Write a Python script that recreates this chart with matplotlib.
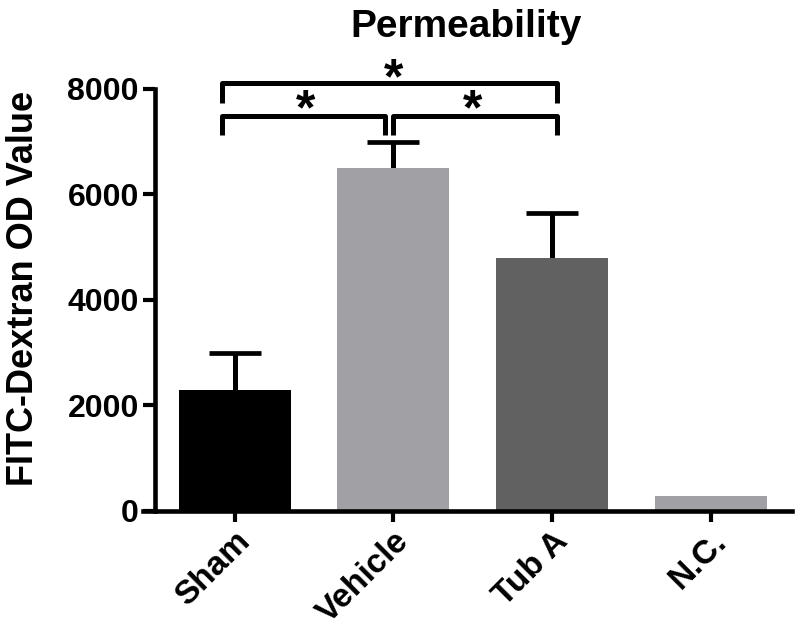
import matplotlib.pyplot as plt

plt.rcParams['font.family'] = ['Liberation Sans', 'DejaVu Sans']
plt.rcParams['font.weight'] = 'bold'

groups = ["Sham", "Vehicle", "Tub A", "N.C."]
means = [2290, 6490, 4800, 280]
sem = [695, 495, 835, 0]
colors = ["#000000", "#a1a1a5", "#616161", "#a1a1a5"]

# significance brackets: (x_left, x_right, y_line, y_leg)
brackets = [(-0.08, 2.03, 8100, 7730), (-0.08, 0.95, 7490, 7120), (1.0, 2.03, 7490, 7120)]
stars = [(1.0, 7720), (0.45, 7130), (1.5, 7130)]

fig = plt.figure(figsize=(8, 6.33), dpi=100)
ax = fig.add_axes([0.17875, 0.1932, 0.8108, 0.7333])

x = list(range(len(groups)))
ax.bar(x, means, width=0.705, color=colors, zorder=2)
eb = ax.errorbar(x[:3], means[:3], yerr=[[0, 0, 0], sem[:3]], fmt="none", ecolor="black",
                 elinewidth=3.6, capsize=18.5, capthick=3.4, zorder=1)
eb[1][0].set_visible(False)  # only the upper caps

for x0, x1, yl, yleg in brackets:
    ax.plot([x0, x0, x1, x1], [yleg, yl, yl, yleg], color="black", lw=3.6,
            solid_joinstyle="round", solid_capstyle="butt", clip_on=False)
for sx, sy in stars:
    ax.text(sx, sy, "*", ha="center", va="bottom", fontsize=36, fontweight="bold")

ax.set_xlim(-0.577, 3.51)
ax.set_ylim(0, 8800)
ax.spines["top"].set_visible(False)
ax.spines["right"].set_visible(False)
ax.spines["left"].set_position(("data", -0.502))
ax.spines["left"].set_bounds(0, 8000)
for s in ["left", "bottom"]:
    ax.spines[s].set_linewidth(3.3)

ax.set_yticks([0, 2000, 4000, 6000, 8000])
ax.set_xticks(x)
ax.set_xticklabels(groups, rotation=45, ha="right", rotation_mode="anchor")
ax.tick_params(axis="y", length=8.5, width=3.0, labelsize=23, pad=3)
ax.tick_params(axis="x", length=8, width=3.0, labelsize=24, pad=3)
for lab in ax.get_xticklabels() + ax.get_yticklabels():
    lab.set_fontweight("bold")

ax.set_ylabel("FITC-Dextran OD Value", fontsize=26, fontweight="bold")
ax.yaxis.set_label_coords(-0.158, 0.478)
fig.text(0.583, 0.957, "Permeability", ha="center", va="center", fontsize=28, fontweight="bold")

fig.savefig("out.png", dpi=100)
